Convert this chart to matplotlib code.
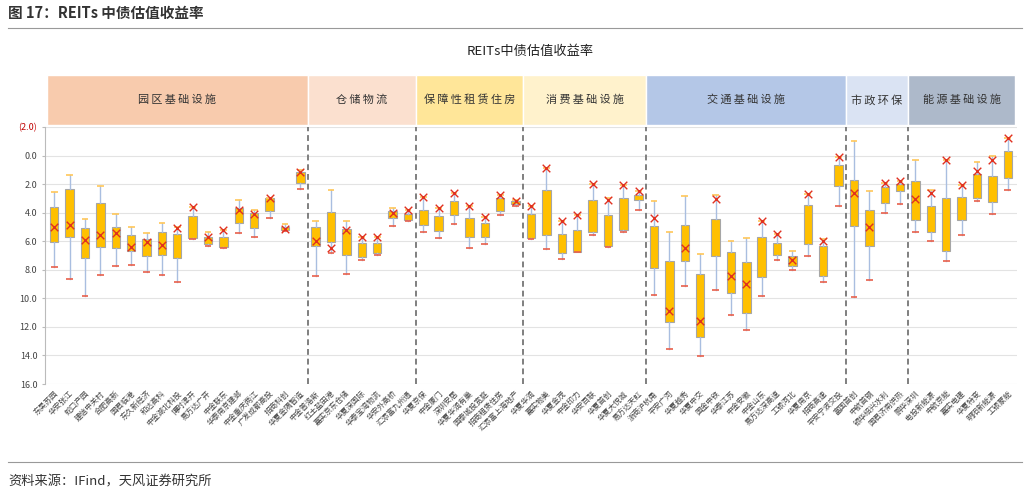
import matplotlib
matplotlib.use("Agg")
import matplotlib.pyplot as plt
from matplotlib.patches import Rectangle

plt.rcParams["font.family"] = ["Noto Sans CJK SC", "DejaVu Sans"]

groups = ["园区基础设施", "仓储物流", "保障性租赁住房", "消费基础设施", "交通基础设施", "市政环保", "能源基础设施"]
group_sizes = [17, 7, 7, 8, 13, 4, 7]
group_colors = ["#F8CBAD", "#FBE0CF", "#FFE699", "#FFF2CC", "#B4C7E7", "#DAE3F3", "#ADB9CA"]

names = ["东吴苏园", "华安张江", "蛇口产园", "建信中关村", "合肥高新", "国君临港", "东久新经济", "和达高科",
         "中金湖北科投", "博时津开", "易方达广开", "中金联东", "华泰南京建邺", "中金重庆两江", "广发成都高投",
         "招商科创", "华夏金隅智造",
         "中金普洛斯", "红土盐田港", "嘉实京东仓储", "华夏深国际", "华泰宝湾物流", "华安外高桥", "汇添富九州通",
         "华夏京保", "中金厦门", "深圳安居", "华夏华润有巢", "国泰城投宽庭", "招商租赁住房", "汇添富上海地产",
         "华夏华润", "嘉实物美", "华夏金茂", "中金印力", "华安百联", "华夏首创", "华夏大悦城", "易方达天虹",
         "浙商沪杭甬", "平安广河", "华夏越秀", "华夏中交", "国金中铁", "华泰江苏", "中金安徽", "中金山东",
         "易方达深高速", "工银河北", "华夏南京", "招商高速", "平安宁波交投",
         "富国首创", "中航首钢", "银华绍兴水利", "国君济南供热",
         "鹏华深圳", "电投新能源", "中航京能", "嘉实电建", "华夏特变", "明阳新能源", "工银蒙能"]

w_low = [2.57, 1.36, 4.42, 2.15, 4.07, 5.03, 5.45, 4.70, 5.03, 3.60, 5.38, 5.20, 3.09, 3.79, 2.97, 4.77, 1.03,
         4.58, 2.43, 4.60, 5.71, 5.71, 3.70, 3.78,
         2.92, 3.70, 2.64, 3.50, 4.30, 2.74, 3.14,
         3.50, 0.87, 4.56, 4.19, 1.96, 2.97, 2.04, 2.48,
         3.18, 5.33, 2.81, 6.90, 2.74, 5.96, 5.80, 4.58, 5.50, 6.67, 2.67, 5.85, 0.12,
         -1.03, 2.46, 1.92, 1.75,
         0.28, 2.39, 0.28, 2.04, 0.42, 0.05, -1.24]
box_top = [3.60, 2.34, 5.08, 3.30, 5.03, 5.54, 5.82, 5.38, 5.52, 4.23, 5.68, 5.68, 3.67, 4.00, 3.00, 4.98, 1.17,
           4.98, 3.95, 5.17, 6.10, 6.10, 3.88, 4.09,
           3.79, 4.23, 3.20, 4.37, 4.72, 2.97, 3.16,
           4.12, 2.43, 5.50, 5.22, 3.11, 4.16, 3.00, 2.74,
           4.93, 7.39, 4.86, 8.33, 4.44, 6.76, 7.46, 5.68, 6.15, 7.04, 3.49, 6.36, 0.63,
           1.68, 3.84, 2.20, 1.99,
           1.80, 3.56, 2.95, 2.88, 1.29, 1.45, -0.35]
box_bot = [6.03, 5.73, 7.20, 6.43, 6.48, 6.69, 7.00, 6.97, 7.18, 5.75, 6.20, 6.41, 4.72, 5.05, 3.86, 5.24, 1.92,
           6.34, 6.06, 6.93, 7.11, 6.83, 4.40, 4.51,
           4.87, 5.29, 4.16, 5.73, 5.68, 3.86, 3.42,
           5.78, 5.59, 6.85, 6.78, 5.38, 6.32, 5.19, 3.09,
           7.86, 11.67, 7.37, 12.72, 7.02, 9.64, 11.02, 8.54, 6.97, 7.72, 6.22, 8.42, 2.13,
           4.96, 6.32, 3.32, 2.50,
           4.49, 5.33, 6.69, 4.51, 3.00, 3.23, 1.57]
w_high = [7.80, 8.65, 9.82, 8.37, 7.72, 7.65, 8.14, 8.37, 8.84, 5.85, 6.34, 6.45, 5.43, 5.71, 4.40, 5.30, 2.36,
          8.42, 6.85, 8.28, 7.35, 6.93, 4.91, 4.60,
          5.38, 5.80, 4.80, 6.48, 6.20, 4.19, 3.50,
          5.85, 6.57, 7.25, 6.78, 5.59, 6.43, 5.33, 3.78,
          9.80, 13.52, 9.15, 14.04, 9.40, 11.14, 12.21, 9.87, 7.35, 8.00, 7.07, 8.89, 3.53,
          9.89, 8.70, 4.02, 3.42,
          5.38, 5.96, 7.39, 5.59, 3.20, 4.12, 2.39]
current = [5.03, 4.84, 5.94, 5.57, 5.45, 6.39, 6.04, 6.27, 5.10, 3.62, 5.68, 5.24, 3.79, 4.12, 2.97, 5.15, 1.17,
           5.99, 6.48, 5.24, 5.71, 5.71, 4.02, 3.80,
           2.92, 3.70, 2.64, 3.50, 4.30, 2.74, 3.18,
           3.50, 0.87, 4.56, 4.19, 1.96, 3.09, 2.04, 2.48,
           4.40, 10.86, 6.48, 11.56, 3.04, 8.42, 8.98, 4.58, 5.52, 7.32, 2.67, 6.01, 0.12,
           2.64, 5.00, 1.92, 1.78,
           3.04, 2.62, 0.28, 2.04, 1.05, 0.30, -1.24]

yticks = [-2, 0, 2, 4, 6, 8, 10, 12, 14, 16]
ytick_labels = ["(2.0)", "0.0", "2.0", "4.0", "6.0", "8.0", "10.0", "12.0", "14.0", "16.0"]

W, H = 1031, 495
fig = plt.figure(figsize=(W / 100, H / 100), dpi=100)

def px(x0, y0, x1, y1):
    return [x0 / W, 1 - y1 / H, (x1 - x0) / W, (y1 - y0) / H]

fig.text(8 / W, 1 - 13 / H, "图 17：REITs 中债估值收益率", fontsize=10.5, fontweight="bold",
         color="#333333", va="center", ha="left")
fig.add_artist(plt.Line2D([8 / W, 1022 / W], [1 - 28 / H] * 2, color="#999999", lw=0.8))
fig.add_artist(plt.Line2D([8 / W, 1022 / W], [1 - 462 / H] * 2, color="#999999", lw=0.8))
fig.text(8 / W, 1 - 482 / H, "资料来源：IFind，天风证券研究所", fontsize=9.5, color="#333333",
         va="center", ha="left")
fig.text(530 / W, 1 - 51 / H, "REITs中债估值收益率", fontsize=9.5, color="#222222",
         va="center", ha="center")

n = len(names)
xlim = (-0.6, n - 0.4)

ax = fig.add_axes(px(45, 127, 1017, 384))
stats = []
for i in range(n):
    stats.append(dict(med=(box_top[i] + box_bot[i]) / 2, q1=box_top[i], q3=box_bot[i],
                      whislo=w_low[i], whishi=w_high[i], fliers=[]))
ax.bxp(stats, positions=list(range(n)), widths=0.55, patch_artist=True, showcaps=False,
       boxprops=dict(facecolor="#FFC000", edgecolor="#A6A6A6", lw=0.8),
       whiskerprops=dict(color="#A9BEE0", lw=1.0),
       medianprops=dict(lw=0))
ax.hlines(w_low, [i - 0.22 for i in range(n)], [i + 0.22 for i in range(n)], color="#FFC75A", lw=1.2, zorder=3)
ax.hlines(w_high, [i - 0.22 for i in range(n)], [i + 0.22 for i in range(n)], color="#E8604C", lw=1.2, zorder=3)
ax.scatter(range(n), current, marker="x", color="#E03020", s=30, lw=1.0, zorder=4)

ax.set_xlim(*xlim)
ax.set_ylim(16, -2)
ax.set_yticks(yticks)
ax.set_yticklabels(ytick_labels, fontsize=6.5, color="#444444")
ax.get_yticklabels()[0].set_color("#C00000")
ax.yaxis.grid(True, color="#E3E3E3", lw=0.8)
ax.set_axisbelow(True)
ax.set_xticks(range(n))
ax.set_xticklabels(names, rotation=45, ha="right", rotation_mode="anchor", fontsize=5.5, color="#444444")
ax.tick_params(axis="x", length=0, pad=4)
ax.tick_params(axis="y", length=2, color="#BBBBBB")
for s in ["top", "right", "bottom"]:
    ax.spines[s].set_visible(False)
ax.spines["left"].set_color("#BBBBBB")

start = 0
bounds = []
for g in group_sizes:
    bounds.append((start - 0.5, start + g - 0.5))
    start += g
for b0, b1 in bounds[:-1]:
    ax.axvline(b1, color="#7F7F7F", ls=(0, (3, 2)), lw=1.4, zorder=1)

hax = fig.add_axes(px(45, 75, 1017, 125))
hax.set_xlim(*xlim)
hax.set_ylim(0, 1)
hax.axis("off")
for (b0, b1), gname, col in zip(bounds, groups, group_colors):
    lo = max(b0, xlim[0])
    hi = min(b1, xlim[1])
    hax.add_patch(Rectangle((lo, 0), hi - lo, 1, facecolor=col, edgecolor="white", lw=1.0))
    hax.text((lo + hi) / 2, 0.5, "\u2009".join(gname), ha="center", va="center", fontsize=8, color="#333333")

fig.savefig("out.png", dpi=100)
